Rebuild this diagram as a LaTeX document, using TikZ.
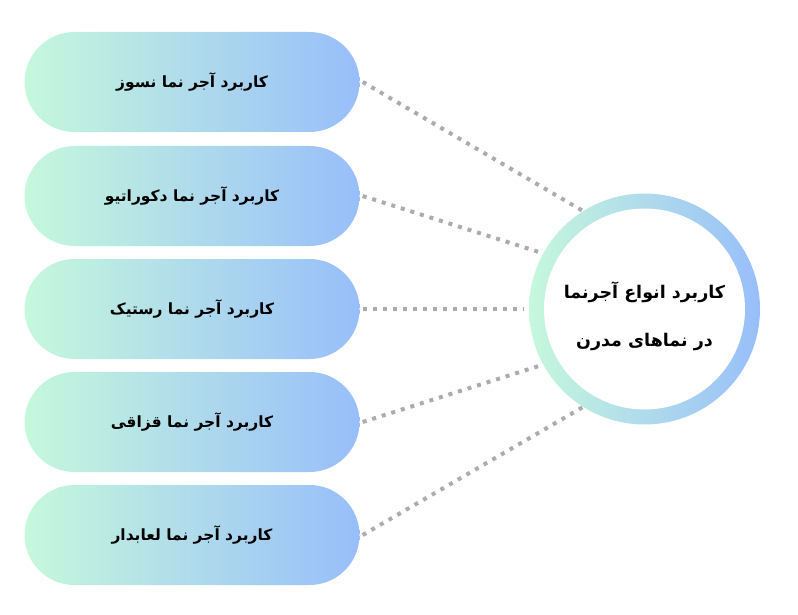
\documentclass[tikz,border=0pt]{standalone}
\usepackage{fontspec}
\usetikzlibrary{shapes.misc}
\TeXXeTstate=1
\newfontfamily\fa[Script=Arabic]{DejaVu Sans}
\definecolor{mint}{RGB}{198,248,220}
\definecolor{skyb}{RGB}{152,190,250}
\definecolor{dotgray}{RGB}{172,172,172}
\tikzset{
  pill/.style={rounded rectangle, minimum width=335pt, minimum height=100pt,
    left color=mint, right color=skyb, draw=none, inner sep=0pt,
    font=\fa\bfseries\fontsize{15.5}{18}\selectfont},
  dotline/.style={draw=dotgray, line width=4pt, dash pattern=on 4pt off 6pt},
}
\begin{document}
\begin{tikzpicture}[x=1pt,y=-1pt]
\useasboundingbox (0,0) rectangle (798,615);
\node[pill] (p1) at (192,82) {\beginR کاربرد آجر نما نسوز\endR};
\node[pill] (p2) at (192,196) {\beginR کاربرد آجر نما دکوراتیو\endR};
\node[pill] (p3) at (192,309) {\beginR کاربرد آجر نما رستیک\endR};
\node[pill] (p4) at (192,422) {\beginR کاربرد آجر نما قزاقی\endR};
\node[pill] (p5) at (192,535) {\beginR کاربرد آجر نما لعابدار\endR};
\node[circle, minimum size=231pt, inner sep=0pt, left color=mint, right color=skyb] (c) at (644.5,309) {};
\node[circle, minimum size=201pt, inner sep=0pt, fill=white] (ci) at (c.center) {};
\node[align=center, font=\fa\bfseries\fontsize{17.5}{48}\selectfont] (ct) at ([yshift=-7pt]c.center)
  {\beginR کاربرد انواع آجرنما\endR\\ \beginR در نماهای مدرن\endR};
\draw[dotline] ([xshift=3pt]p1.east) -- ([shift={(-4pt,-2pt)}]c.120);
\draw[dotline] ([xshift=3pt]p2.east) -- ([shift={(-5pt,-1pt)}]c.150);
\draw[dotline] ([xshift=3pt]p3.east) -- ([xshift=-5pt]c.180);
\draw[dotline] ([xshift=3pt]p4.east) -- ([shift={(-5pt,1pt)}]c.210);
\draw[dotline] ([xshift=3pt]p5.east) -- ([shift={(-4pt,2pt)}]c.240);
\end{tikzpicture}
\end{document}
